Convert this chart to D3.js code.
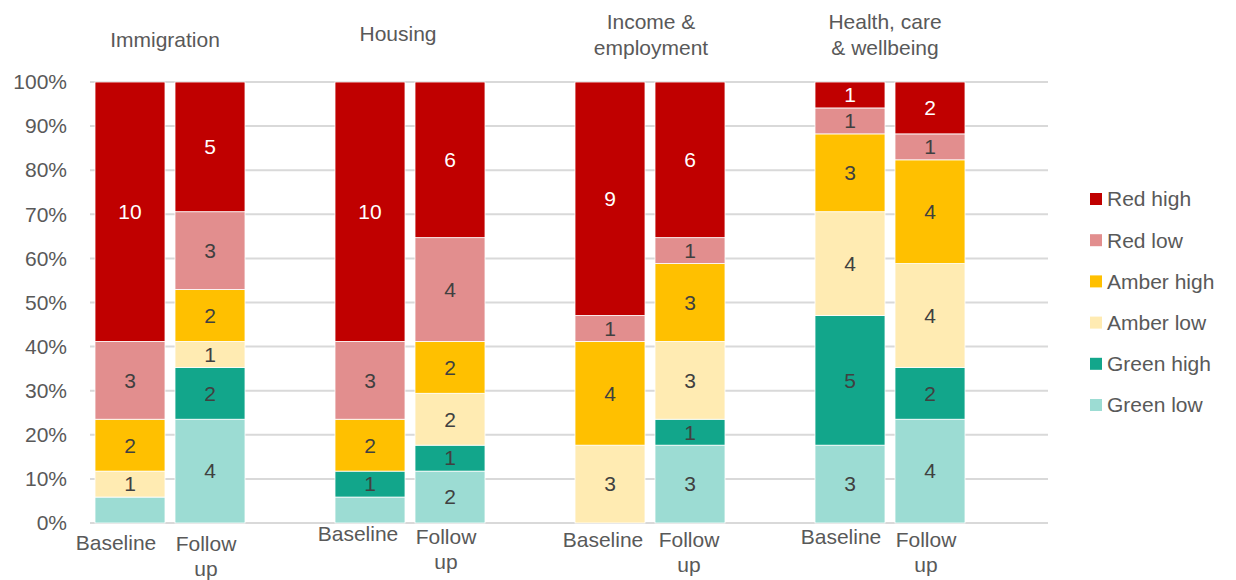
<!DOCTYPE html>
<html>
<head>
<meta charset="utf-8">
<script src="https://cdn.jsdelivr.net/npm/d3@7"></script>
<style>
  html, body { margin: 0; padding: 0; background: #ffffff; }
  svg { display: block; font-family: "Liberation Sans", Arial, sans-serif; }
</style>
</head>
<body>
<svg id="chart" width="1236" height="580"></svg>
<script>
// Theme groups and the two survey points within each group
const groups = ["Immigration", "Housing", "Income & employment", "Health, care & wellbeing"];
const groupTitleLines = [["Immigration"], ["Housing"], ["Income &", "employment"], ["Health, care", "& wellbeing"]];
const periods = ["Baseline", "Follow up"];

// Stack order, bottom to top
const seriesNames = ["Green low", "Green high", "Amber low", "Amber high", "Red low", "Red high"];

// Counts per bar: Imm-B, Imm-F, Hou-B, Hou-F, Inc-B, Inc-F, Hea-B, Hea-F
const greenLow  = [1, 4, 1, 2, 0, 3, 3, 4];
const greenHigh = [0, 2, 1, 1, 0, 1, 5, 2];
const amberLow  = [1, 1, 0, 2, 3, 3, 4, 4];
const amberHigh = [2, 2, 2, 2, 4, 3, 3, 4];
const redLow    = [3, 3, 3, 4, 1, 1, 1, 1];
const redHigh   = [10, 5, 10, 6, 9, 6, 1, 2];

// Segments left without a value label (bar indices)
const unlabelled = { "Green low": [0, 2] };

const yTicks = [0, 0.1, 0.2, 0.3, 0.4, 0.5, 0.6, 0.7, 0.8, 0.9, 1.0];

const colors = {
  "Red high": "#C00000",
  "Red low": "#E28E8E",
  "Amber high": "#FFC000",
  "Amber low": "#FFEBB2",
  "Green high": "#12A68B",
  "Green low": "#9CDCD3"
};
const labelColors = {
  "Red high": "#ffffff",
  "Red low": "#404040",
  "Amber high": "#404040",
  "Amber low": "#404040",
  "Green high": "#404040",
  "Green low": "#404040"
};

// Category label placement tweaks (px) per group
const baselineDx = [-14, -12, -7, -9];
const baselineCy = [543, 534, 540, 537];
const followDx = [-4, -4, -1, -4];
const followCy = [544, 537, 540, 540];
const titleDx = [-5, -12, 1, -5];
const titleCy = [[40], [34], [22, 48], [22, 48]];

const valuesBySeries = [greenLow, greenHigh, amberLow, amberHigh, redLow, redHigh];

// Build bar rows
const rows = [];
groups.forEach((g, gi) => {
  periods.forEach((p, pi) => {
    const idx = gi * 2 + pi;
    const row = { group: g, period: p, idx: idx };
    seriesNames.forEach((s, si) => { row[s] = valuesBySeries[si][idx]; });
    rows.push(row);
  });
});

const svg = d3.select("#chart");
const fontSize = 21;
const textGray = "#595959";

const x0 = d3.scaleBand().domain(groups).range([90, 1050]).padding(0);
const x1 = d3.scaleBand().domain(periods).range([0, 160]).paddingInner(0.125).paddingOuter(0.0625);
const y = d3.scaleLinear().domain([0, 1]).range([523, 82]);

// Gridlines
svg.append("g")
  .selectAll("line")
  .data(yTicks)
  .join("line")
  .attr("x1", 90).attr("x2", 1048)
  .attr("y1", d => y(d)).attr("y2", d => y(d))
  .attr("stroke", "#d9d9d9").attr("stroke-width", 2);

// Y axis tick labels
const yAxis = d3.axisLeft(y).tickValues(yTicks).tickFormat(d3.format(".0%")).tickSize(0).tickPadding(0);
const yg = svg.append("g").attr("transform", "translate(67,0)").call(yAxis);
yg.select(".domain").remove();
yg.selectAll("text")
  .attr("font-size", fontSize)
  .attr("font-family", "Liberation Sans, Arial, sans-serif")
  .attr("fill", textGray);

// Stacked, normalised to 100%
const stack = d3.stack().keys(seriesNames).offset(d3.stackOffsetExpand);
const layers = stack(rows);

const barX = d => x0(d.data.group) + x1(d.data.period);

const layerG = svg.append("g")
  .selectAll("g")
  .data(layers)
  .join("g")
  .attr("fill", d => colors[d.key]);

layerG.selectAll("rect")
  .data(d => d.map(v => Object.assign(v, { key: d.key })))
  .join("rect")
  .attr("x", barX)
  .attr("width", x1.bandwidth())
  .attr("y", d => y(d[1]))
  .attr("height", d => y(d[0]) - y(d[1]))
  .attr("stroke", "#ffffff")
  .attr("stroke-width", 0.8);

// Value labels
layerG.selectAll("text")
  .data(d => d.filter(v => v.data[d.key] > 0 && !((unlabelled[d.key] || []).includes(v.data.idx))))
  .join("text")
  .attr("x", d => barX(d) + x1.bandwidth() / 2)
  .attr("y", d => (y(d[0]) + y(d[1])) / 2)
  .attr("dy", "0.35em")
  .attr("text-anchor", "middle")
  .attr("font-size", fontSize)
  .attr("fill", d => labelColors[d.key])
  .text(d => d.data[d.key]);

// Category labels under bars
groups.forEach((g, gi) => {
  const bx = x0(g) + x1("Baseline") + x1.bandwidth() / 2;
  const fx = x0(g) + x1("Follow up") + x1.bandwidth() / 2;
  svg.append("text")
    .attr("x", bx + baselineDx[gi]).attr("y", baselineCy[gi]).attr("dy", "0.35em")
    .attr("text-anchor", "middle").attr("font-size", fontSize).attr("fill", textGray)
    .text("Baseline");
  const parts = ["Follow", "up"];
  parts.forEach((t, ti) => {
    svg.append("text")
      .attr("x", fx + followDx[gi]).attr("y", followCy[gi] + ti * 25).attr("dy", "0.35em")
      .attr("text-anchor", "middle").attr("font-size", fontSize).attr("fill", textGray)
      .text(t);
  });
});

// Group titles
groups.forEach((g, gi) => {
  const cx = x0(g) + x0.bandwidth() / 2 - 40 + titleDx[gi];
  groupTitleLines[gi].forEach((t, ti) => {
    svg.append("text")
      .attr("x", cx).attr("y", titleCy[gi][ti]).attr("dy", "0.35em")
      .attr("text-anchor", "middle").attr("font-size", fontSize).attr("fill", textGray)
      .text(t);
  });
});

// Legend, top entry = top of stack
const legendItems = seriesNames.slice().reverse();
const legend = svg.append("g").attr("transform", "translate(1090,199)");
const li = legend.selectAll("g").data(legendItems).join("g")
  .attr("transform", (d, i) => `translate(0,${i * 41.2})`);
li.append("rect").attr("x", 0).attr("y", -6).attr("width", 12).attr("height", 12)
  .attr("fill", d => colors[d]);
li.append("text").attr("x", 17).attr("y", 0).attr("dy", "0.35em")
  .attr("font-size", fontSize).attr("fill", textGray).text(d => d);
</script>
</body>
</html>
